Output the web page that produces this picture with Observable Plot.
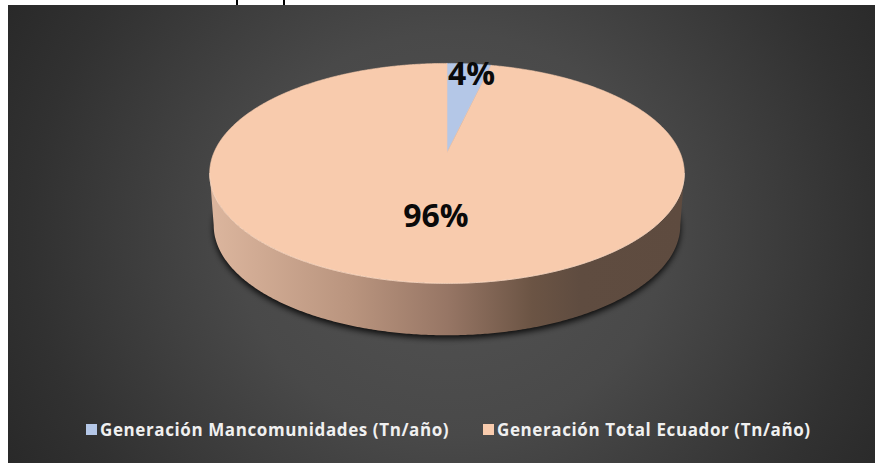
<!DOCTYPE html>
<html>
<head>
<meta charset="utf-8">
<script src="https://cdn.jsdelivr.net/npm/d3@7"></script>
<script src="https://cdn.jsdelivr.net/npm/@observablehq/plot@0.6"></script>
<style>
  html, body { margin: 0; padding: 0; background: #ffffff; overflow: hidden; width: 875px; height: 463px; }
  #wrap { position: relative; width: 875px; height: 463px; overflow: hidden; }
  .frag { position: absolute; top: 0; width: 2px; height: 6px; background: #000; z-index: 0; }
  #panel { position: absolute; left: 8px; top: 5px; width: 867px; height: 458px; z-index: 1;
    background: radial-gradient(ellipse 62% 110% at 51% 50%, #535353 0%, #494949 40%, #313131 78%, #262626 100%); }
  #chart { position: absolute; left: 0; top: 0; z-index: 2; }
  #chart svg { display: block; }
  .lg { position: absolute; top: 421px; display: flex; align-items: center; z-index: 3;
    font: bold 17px "Open Sans"; line-height: 17px; letter-spacing: 0.6px; color: #f0f0f0; white-space: nowrap; }
  .lg i { display: inline-block; width: 11px; height: 11px; margin-right: 3px; }
</style>
</head>
<body>
<div id="wrap">
  <div class="frag" style="left:236px"></div><div class="frag" style="left:283px"></div>
  <div id="panel"></div>
  <div id="chart"></div>
  <div id="legend"></div>
</div>
<script>
// ---- data ----
const categories = ["Generación Mancomunidades (Tn/año)", "Generación Total Ecuador (Tn/año)"];
const shares = [3.6, 96.4];
const sliceColors = ["#b4c7e7", "#f8cbad"];

// ---- 3D pie geometry (unit disk, simple perspective) ----
const P = 0.19;
const DEPTH = 0.49;
const SHRINK = 0.017;
function proj(a, r, h) {
  const u = r * Math.sin(a), v = -r * Math.cos(a);
  const w = 1 - P * v;
  return { x: (u / w) * (1 - SHRINK * h), y: v / w + DEPTH * h };
}
function arc(a0, a1, r, h, step = Math.PI / 360) {
  const n = Math.max(2, Math.ceil(Math.abs(a1 - a0) / step));
  return d3.range(n + 1).map(k => proj(a0 + (a1 - a0) * k / n, r, h));
}

const total = d3.sum(shares);
let acc = 0;
const slices = shares.map((s, i) => {
  const a0 = acc / total * 2 * Math.PI; acc += s;
  const a1 = acc / total * 2 * Math.PI;
  const frac = s / total;
  const am = (a0 + a1) / 2;
  const lr = frac < 0.1 ? 0.86 : 0.55;
  const lp = proj(am, lr, 0);
  return {
    name: categories[i], color: sliceColors[i],
    label: Math.round(frac * 100) + "%",
    lx: lp.x, ly: lp.y,
    pts: [proj(0, 0, 0), ...arc(a0, a1, 1, 0), proj(0, 0, 0)]
  };
});

const aL = Math.acos(-P), aR = 2 * Math.PI - aL;
const sidePts = [...arc(aL, aR, 1, 0), ...arc(aR, aL, 1, 1)];
const shadowPts = arc(0, 2 * Math.PI, 1, 1);
const rimPts = arc(aL, aR, 1, 0);

const plot = Plot.plot({
  width: 875, height: 463,
  margin: 0,
  style: { background: "transparent" },
  x: { domain: [-1, 1], range: [213.5, 679.5], axis: null },
  y: { domain: [-1, 1], range: [46, 258], axis: null },
  marks: [
    Plot.line(shadowPts, { x: "x", y: "y", fill: "#000", fillOpacity: 0.85, stroke: "none", dy: 3 }),
    Plot.line(sidePts, { x: "x", y: "y", fill: "url(#sideGrad)", stroke: "none" }),
    ...slices.map(sl => Plot.line(sl.pts, { x: "x", y: "y", fill: sl.color, stroke: sl.color, strokeWidth: 0.6 })),
    Plot.line(rimPts, { x: "x", y: "y", stroke: "#fde3d0", strokeWidth: 1, strokeOpacity: 0.6 }),
    Plot.text(slices, { x: "lx", y: "ly", text: "label", fontSize: 32, fontWeight: "bold",
      fontFamily: "Open Sans", fill: "#0a0a0a", dx: 5 })
  ]
});

const svg = d3.select(plot);
const defs = svg.insert("defs", ":first-child");
const g = defs.append("linearGradient").attr("id", "sideGrad").attr("x1", "0").attr("x2", "1").attr("y1", "0").attr("y2", "0");
[[0, "#dcb69e"], [0.3, "#b9947e"], [0.5, "#977665"], [0.68, "#6b5444"], [0.78, "#5f4c40"], [1, "#5e4b3f"]]
  .forEach(([o, c]) => g.append("stop").attr("offset", o).attr("stop-color", c));
defs.append("filter").attr("id", "blurShadow").attr("x", "-10%").attr("y", "-10%").attr("width", "120%").attr("height", "130%")
  .append("feGaussianBlur").attr("stdDeviation", 3);
const groups = plot.querySelectorAll(":scope > g");
if (groups.length) d3.select(groups[0]).attr("filter", "url(#blurShadow)");
document.getElementById("chart").appendChild(plot);

// ---- legend ----
const legendLeft = [86, 483];
const lg = document.getElementById("legend");
categories.forEach((c, i) => {
  const d = document.createElement("div");
  d.className = "lg";
  d.style.left = legendLeft[i] + "px";
  d.innerHTML = `<i style="background:${sliceColors[i]}"></i><span>${c}</span>`;
  lg.appendChild(d);
});
</script>
</body>
</html>
